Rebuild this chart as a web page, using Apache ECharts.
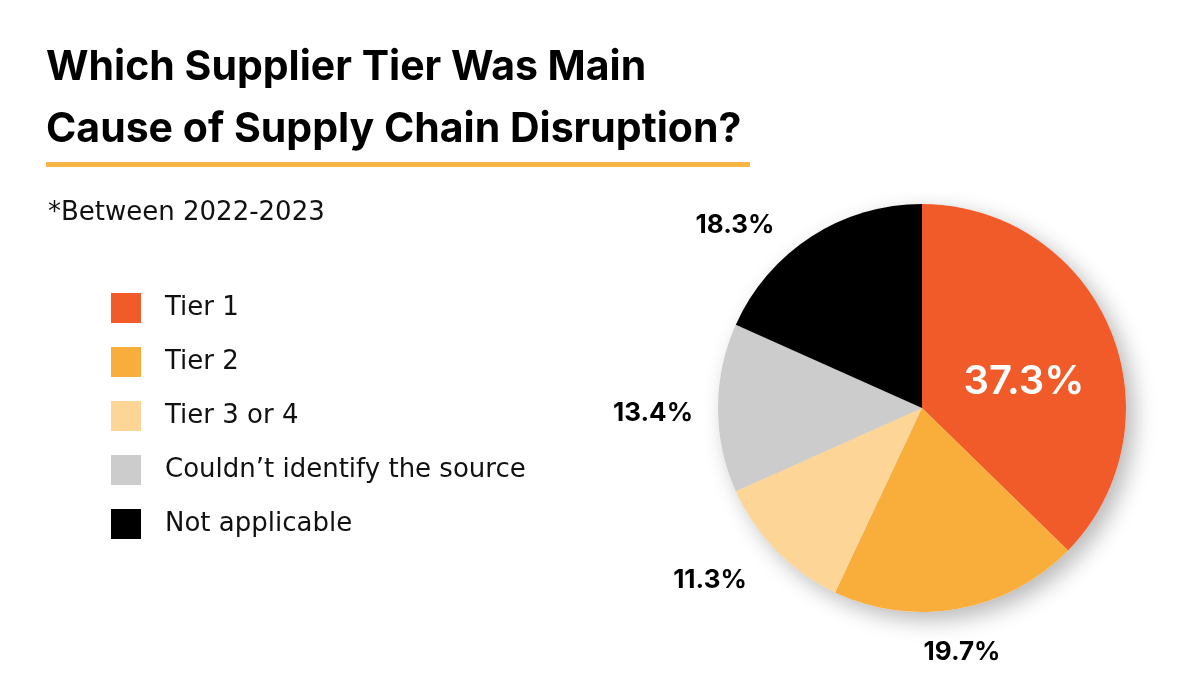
<!DOCTYPE html>
<html>
<head>
<meta charset="utf-8">
<script src="https://cdn.jsdelivr.net/npm/echarts@6/dist/echarts.min.js"></script>
<style>
  html, body { margin: 0; padding: 0; background: #fff; }
  #chart { width: 1200px; height: 700px; }
</style>
</head>
<body>
<div id="chart"></div>
<script>
const categories = ['Tier 1', 'Tier 2', 'Tier 3 or 4', 'Couldn\u2019t identify the source', 'Not applicable'];
const shares = [37.3, 19.7, 11.3, 13.4, 18.3];
const colors = ['#F15A29', '#F9AE3C', '#FDD697', '#CCCCCC', '#000000'];

const FONT = 'Inter, "Noto Sans", sans-serif';
const BODY_FONT = '"DejaVu Sans", Inter, sans-serif';
const cx = 922, cy = 408;
// label anchor offsets from pie centre, one per slice
const labelOffsets = [[102, -26], [40, 244], [-212, 172], [-269, 5], [-187, -183]];

const chart = echarts.init(document.getElementById('chart'));

const pieData = categories.map((name, i) => ({
  name,
  value: shares[i],
  itemStyle: { color: colors[i] },
  label: i === 0
    ? { color: '#fff', fontSize: 40, fontWeight: 600 }
    : { color: '#000', fontSize: 26, fontWeight: 700 }
}));

const option = {
  backgroundColor: '#fff',
  animation: false,
  title: [
    {
      text: 'Which Supplier Tier Was Main\nCause of Supply Chain Disruption?',
      left: 41,
      top: 32,
      textStyle: {
        fontFamily: FONT,
        fontSize: 41,
        fontWeight: 700,
        color: '#000',
        lineHeight: 62
      }
    },
    {
      text: '*Between 2022-2023',
      left: 43,
      top: 195,
      textStyle: { fontFamily: BODY_FONT, fontSize: 26, fontWeight: 400, color: '#111' }
    }
  ],
  graphic: [
    {
      type: 'rect',
      shape: { x: 46, y: 162, width: 704, height: 5 },
      style: { fill: '#F6B545' },
      silent: true
    }
  ],
  legend: {
    orient: 'vertical',
    left: 111,
    top: 293,
    padding: 0,
    icon: 'rect',
    itemWidth: 30,
    itemHeight: 30,
    itemGap: 24,
    selectedMode: false,
    data: categories,
    textStyle: {
      fontFamily: BODY_FONT,
      fontSize: 26,
      color: '#111',
      padding: [0, 0, 0, 19]
    }
  },
  series: [
    {
      type: 'pie',
      name: 'share',
      center: [cx, cy],
      radius: 204,
      startAngle: 90,
      clockwise: true,
      z: 3,
      silent: true,
      data: pieData,
      label: {
        show: true,
        position: 'outside',
        overflow: 'none',
        width: 200,
        formatter: p => p.value.toFixed(1) + '%',
        fontFamily: FONT
      },
      labelLine: { show: false },
      labelLayout: params => {
        const o = labelOffsets[params.dataIndex];
        return { x: cx + o[0], y: cy + o[1], align: 'center', verticalAlign: 'middle' };
      }
    },
    {
      // shadow layer drawn behind the slices
      type: 'pie',
      name: 'shadow',
      center: [cx, cy],
      radius: 204,
      z: 1,
      silent: true,
      data: categories.map((name, i) => ({ name, value: shares[i] })),
      itemStyle: {
        color: '#fff',
        shadowBlur: 22,
        shadowOffsetX: 8,
        shadowOffsetY: 8,
        shadowColor: 'rgba(0,0,0,0.28)'
      },
      label: { show: false },
      labelLine: { show: false }
    }
  ]
};

chart.setOption(option);
window.addEventListener('resize', () => chart.resize());
</script>
</body>
</html>
